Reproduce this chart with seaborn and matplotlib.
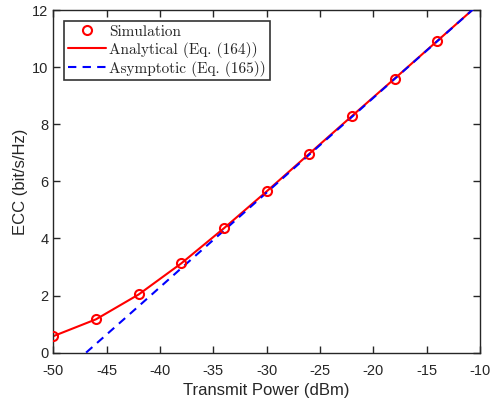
import numpy as np
import pandas as pd
import matplotlib
matplotlib.use("Agg")
import matplotlib.pyplot as plt
import seaborn as sns

# Data
power_dbm = [-50, -46, -42, -38, -34, -30, -26, -22, -18, -14]
sim_ecc = [0.58, 1.17, 2.04, 3.13, 4.36, 5.65, 6.97, 8.29, 9.60, 10.92]

ana_power = [-50, -46, -42, -38, -34, -30, -26, -22, -18, -14, -10]
ana_ecc = [0.58, 1.17, 2.04, 3.13, 4.36, 5.65, 6.97, 8.29, 9.60, 10.92, 12.24]

asy_power = [-50, -46, -42, -38, -34, -30, -26, -22, -18, -14, -10]
asy_ecc = [-1.01, 0.31, 1.63, 2.96, 4.28, 5.61, 6.94, 8.26, 9.59, 10.91, 12.24]

xticks = [-50, -45, -40, -35, -30, -25, -20, -15, -10]
yticks = [0, 2, 4, 6, 8, 10, 12]

sns.set_theme(style="white")
plt.rcParams['font.family'] = ['Liberation Sans', 'DejaVu Sans']
plt.rcParams['axes.unicode_minus'] = False

fig = plt.figure(figsize=(4.92, 4.01), dpi=100)
ax = fig.add_axes([0.1084, 0.1204, 0.8672, 0.8546])

df_ana = pd.DataFrame({"x": ana_power, "y": ana_ecc})
df_asy = pd.DataFrame({"x": asy_power, "y": asy_ecc})
df_sim = pd.DataFrame({"x": power_dbm, "y": sim_ecc})

sns.lineplot(data=df_ana, x="x", y="y", ax=ax, color="#ff0000", lw=1.5,
             label="Analytical (Eq. (164))", zorder=2)
sns.lineplot(data=df_asy, x="x", y="y", ax=ax, color="#0000ff", lw=1.5,
             linestyle=(0, (4, 3)), label="Asymptotic (Eq. (165))", zorder=3)
ax.plot(df_sim["x"], df_sim["y"], linestyle="none", marker="o", ms=6.5,
        mfc="none", mec="#ff0000", mew=1.5, label="Simulation", zorder=4)

ax.set_xlim(-50, -10)
ax.set_ylim(0, 12)
ax.set_xticks(xticks)
ax.set_yticks(yticks)
ax.set_xticklabels([str(t) for t in xticks])
ax.set_yticklabels([str(t) for t in yticks])

for s in ax.spines.values():
    s.set_color("#262626")
    s.set_linewidth(1.0)
ax.tick_params(axis="both", direction="in", length=5, width=1.0, color="#262626",
               labelsize=10.5, labelcolor="#262626", top=True, right=True,
               bottom=True, left=True)
ax.tick_params(axis="x", pad=8)
ax.tick_params(axis="y", pad=3.5)

ax.set_xlabel("Transmit Power (dBm)", fontsize=12, color="#262626", labelpad=4)
ax.set_ylabel("ECC (bit/s/Hz)", fontsize=12, color="#262626", labelpad=3)

handles, labels = ax.get_legend_handles_labels()
order = [labels.index("Simulation"), labels.index("Analytical (Eq. (164))"),
         labels.index("Asymptotic (Eq. (165))")]
leg = ax.legend([handles[i] for i in order], [labels[i] for i in order],
                loc="upper left", bbox_to_anchor=(0.025, 0.968),
                prop={"family": ["cmr10", "DejaVu Serif"], "size": 11},
                frameon=True, fancybox=False, edgecolor="#000000",
                handlelength=2.5, handletextpad=0.2, labelspacing=0.2,
                borderpad=0.25, borderaxespad=0.0)
leg.get_frame().set_linewidth(1.2)

fig.savefig("out.png", dpi=100)
